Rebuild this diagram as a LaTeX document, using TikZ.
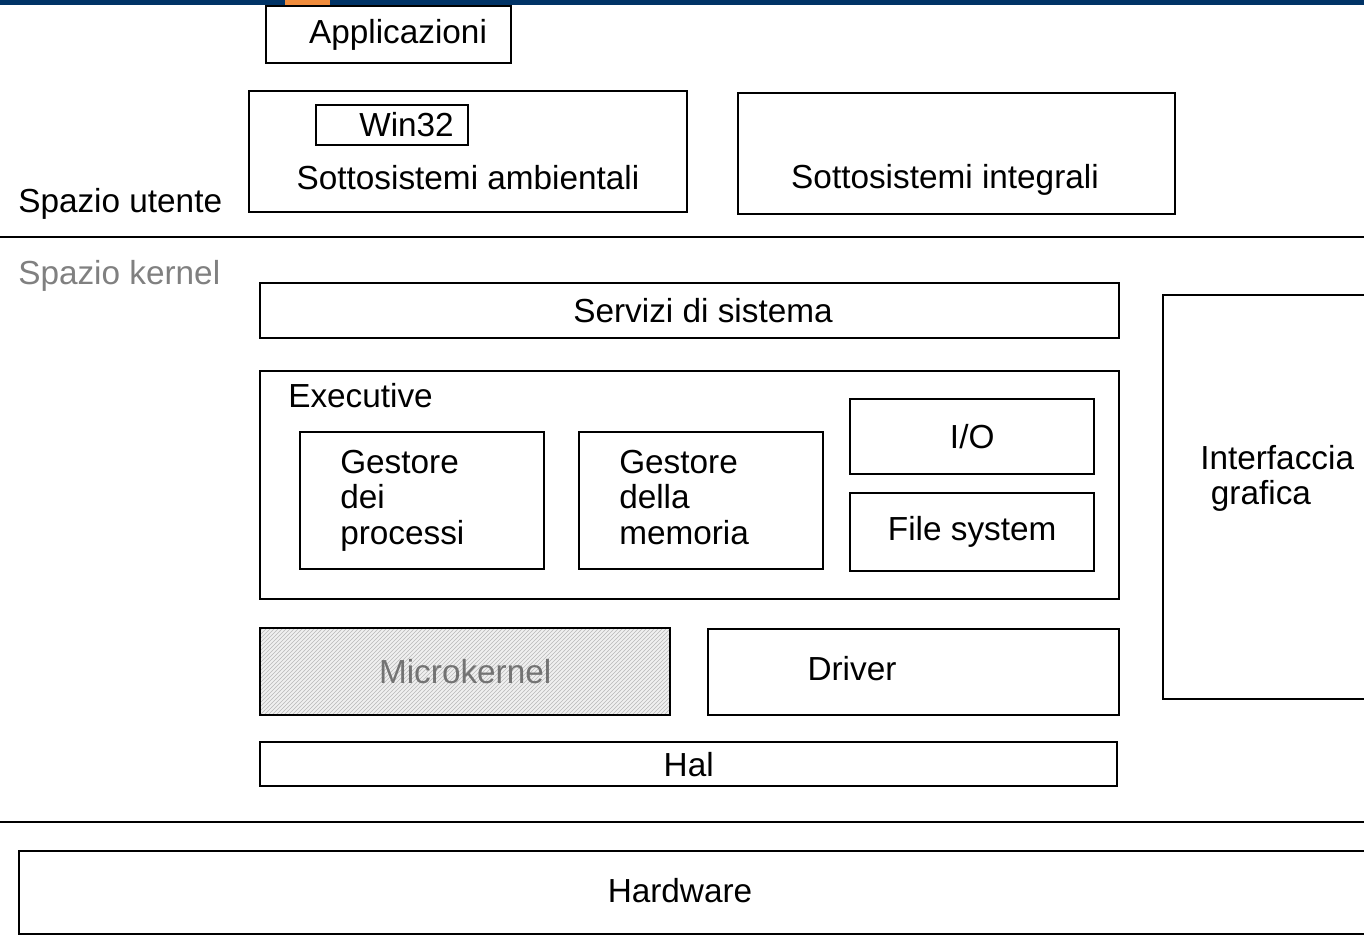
\documentclass[tikz,border=0pt]{standalone}
\usepackage{fontspec}
\setmainfont{Liberation Sans}
\usetikzlibrary{patterns}
\definecolor{barblue}{RGB}{0,51,102}
\definecolor{taborange}{RGB}{240,140,60}

\begin{document}
\begin{tikzpicture}
[x=0.75pt,y=-0.75pt,
  every node/.style={font=\fontsize{25}{26.5}\selectfont},
  box/.style={draw,line width=1.8pt,inner sep=0pt,anchor=north west},
  wh/.style 2 args={minimum width=#1*0.75pt,minimum height=#2*0.75pt},
  txt/.style={inner sep=0pt},
  sepline/.style={line width=2.2pt},
  hatched/.style={preaction={fill=gray!12},pattern=north east lines,pattern color=gray!55}]
\fill[white] (0,0) rectangle (1364,951);
\useasboundingbox (0,0) rectangle (1364,951);
\fill[barblue] (0,0) rectangle (1364,5);
\fill[taborange] (285,0) rectangle (330,5);

\node[box,wh={245}{57}] (app) at (265,5) {\hspace*{14pt}Applicazioni};

\node[box,wh={438}{121}] (amb) at (248,90) {};
\node[box,wh={152}{40},line width=1.3pt] (win) at (315,104) {\hspace*{22pt}Win32};
\node[txt] (ambtext) at (468,178) {Sottosistemi ambientali};
\node[box,wh={437}{121}] (integ) at (737,92) {};
\node[txt] (integtext) at (945,180) {Sottosistemi integrali};
\node[txt,anchor=west] (utente) at (18,204) {Spazio utente};

\coordinate (ul) at (0,237);
\coordinate (ur) at (1364,237);
\draw[sepline] (ul) -- (ur);
\node[txt,anchor=west,text=gray] (kernel) at (18,276) {Spazio kernel};

\node[box,wh={859}{55}] (serv) at (259,282) {\hspace*{20pt}Servizi di sistema};
\node[box,wh={859}{228}] (exec) at (259,370) {};
\node[txt,anchor=west] (exectext) at (288,396) {Executive};
\node[box,wh={244}{137}] (proc) at (299,431) {};
\node[txt,anchor=north west,align=left] (proctext) at (340,450) {Gestore\\dei\\processi};
\node[box,wh={244}{137}] (mem) at (578,431) {};
\node[txt,anchor=north west,align=left] (memtext) at (619,450) {Gestore\\della\\memoria};
\node[box,wh={244}{75}] (io) at (849,398) {I/O};
\node[box,wh={244}{78}] (fs) at (849,492) {File system};

\node[box,wh={230}{404}] (gui) at (1162,294) {};
\node[txt,anchor=north west,align=left] (guitext) at (1200,445) {Interfaccia\\\hspace*{8pt}grafica};

\node[box,wh={410}{87},hatched,text=gray!90!black] (micro) at (259,627) {Microkernel};
\node[box,wh={411}{86}] (drv) at (707,628) {};
\node[txt] (drvtext) at (852,669) {Driver};
\node[box,wh={857}{44}] (hal) at (259,741) {Hal};

\coordinate (ll) at (0,822);
\coordinate (lr) at (1364,822);
\draw[sepline] (ll) -- (lr);

\node[box,wh={1400}{83}] (hw) at (18,850) {};
\node[txt] (hwtext) at (680,891) {Hardware};
\end{tikzpicture}
\end{document}
